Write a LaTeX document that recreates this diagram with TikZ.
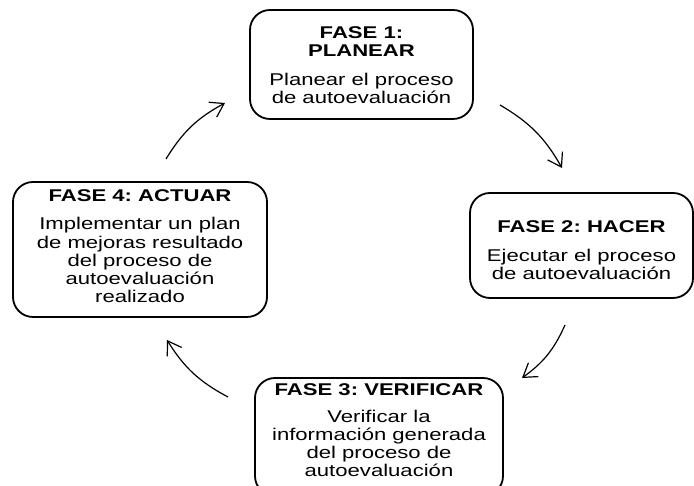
\documentclass[tikz,border=0pt]{standalone}
\usepackage{fontspec}
\setmainfont{Liberation Sans}[FakeStretch=1.3]
\usetikzlibrary{arrows.meta}
\frenchspacing
\begin{document}
\begin{tikzpicture}[x=1pt,y=1pt,
  phasebox/.style={draw=black, line width=1.8pt, rounded corners=20pt, inner sep=0pt},
  phasetext/.style={anchor=base, align=center, inner sep=0pt, font=\fontsize{17}{18.3}\selectfont\frenchspacing},
  cyclearrow/.style={line width=1.2pt, -{Straight Barb[length=13pt,width=17pt,line width=1.2pt]}, bend left=15}]
\useasboundingbox (0,0) rectangle (694,486);
\clip (0,0) rectangle (694,486);
% boxes
\node[phasebox, minimum width=223pt, minimum height=109pt] (p1) at (361.5,421.5) {};
\node[phasebox, minimum width=223pt, minimum height=105pt] (p2) at (581.5,240.5) {};
\node[phasebox, minimum width=248pt, minimum height=118pt] (p3) at (379,49) {};
\node[phasebox, minimum width=254pt, minimum height=135pt] (p4) at (140,236.5) {};
% texts (anchored at the baseline of their last line)
\node[phasetext] (t1) at (361.5,382) {\textbf{FASE 1:}\\\textbf{PLANEAR}\\[10.5pt]Planear el proceso\\de autoevaluación};
\node[phasetext] (t2) at (581.5,206) {\textbf{FASE 2: HACER}\\[11pt]Ejecutar el proceso\\de autoevaluación};
\node[phasetext] (t3) at (379,9) {\textbf{FASE 3: VERIFICAR}\\[8.3pt]Verificar la\\información generada\\del proceso de\\autoevaluación};
\node[phasetext] (t4) at (140,183) {\textbf{FASE 4: ACTUAR}\\[10pt]Implementar un plan\\de mejoras resultado\\del proceso de\\autoevaluación\\realizado};
% arrows
\coordinate (a1s) at (166,327);
\coordinate (a1e) at (225,383);
\coordinate (a2s) at (500,381);
\coordinate (a2e) at (562,318);
\coordinate (a3s) at (565,161);
\coordinate (a3e) at (522,108);
\coordinate (a4s) at (228,89);
\coordinate (a4e) at (167,146);
\draw[cyclearrow] (a1s) to (a1e);
\draw[cyclearrow] (a2s) to (a2e);
\draw[cyclearrow] (a3s) to (a3e);
\draw[cyclearrow] (a4s) to (a4e);
\end{tikzpicture}
\end{document}
